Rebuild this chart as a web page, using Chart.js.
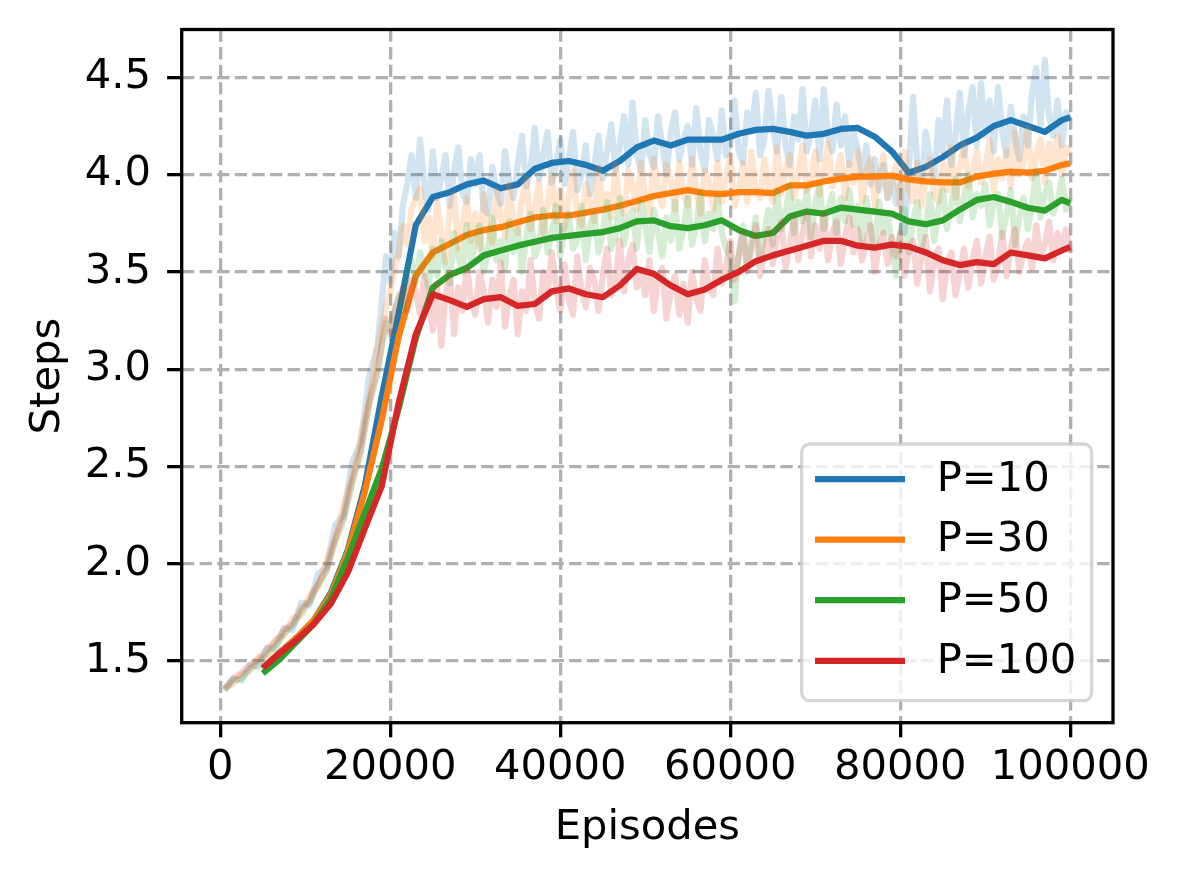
<!DOCTYPE html>
<html>
<head>
<meta charset="utf-8">
<script src="https://cdn.jsdelivr.net/npm/chart.js@4"></script>
<style>
  html, body { margin: 0; padding: 0; background: #fff; }
  #chartData { display: block; }
</style>
</head>
<body>
<canvas id="chartData" width="1179" height="878"></canvas>
<script>
const xTicks = [0, 20000, 40000, 60000, 80000, 100000];
const yTicks = [1.5, 2.0, 2.5, 3.0, 3.5, 4.0, 4.5];
const seriesLabels = ['P=10', 'P=30', 'P=50', 'P=100'];

// raw per-episode curves (faint): coarse on the ramp, finer on the plateau
const rawEpisodes = [
  500, 1500, 2500, 3500, 4500, 5500, 6500, 7500, 8500, 9500,
  10500, 11500, 12500, 13500, 14500, 15500, 16500, 17500, 18500, 19500,
  20000, 20500, 21000, 21500, 22000, 22500, 23000, 23500, 24000, 24500,
  25000, 25500, 26000, 26500, 27000, 27500, 28000, 28500, 29000, 29500,
  30000, 30500, 31000, 31500, 32000, 32500, 33000, 33500, 34000, 34500,
  35000, 35500, 36000, 36500, 37000, 37500, 38000, 38500, 39000, 39500,
  40000, 40500, 41000, 41500, 42000, 42500, 43000, 43500, 44000, 44500,
  45000, 45500, 46000, 46500, 47000, 47500, 48000, 48500, 49000, 49500,
  50000, 50500, 51000, 51500, 52000, 52500, 53000, 53500, 54000, 54500,
  55000, 55500, 56000, 56500, 57000, 57500, 58000, 58500, 59000, 59500,
  60000, 60500, 61000, 61500, 62000, 62500, 63000, 63500, 64000, 64500,
  65000, 65500, 66000, 66500, 67000, 67500, 68000, 68500, 69000, 69500,
  70000, 70500, 71000, 71500, 72000, 72500, 73000, 73500, 74000, 74500,
  75000, 75500, 76000, 76500, 77000, 77500, 78000, 78500, 79000, 79500,
  80000, 80500, 81000, 81500, 82000, 82500, 83000, 83500, 84000, 84500,
  85000, 85500, 86000, 86500, 87000, 87500, 88000, 88500, 89000, 89500,
  90000, 90500, 91000, 91500, 92000, 92500, 93000, 93500, 94000, 94500,
  95000, 95500, 96000, 96500, 97000, 97500, 98000, 98500, 99000, 99500,
  100000
];
const raw10 = [
  1.35, 1.41, 1.40, 1.48, 1.47, 1.57, 1.56, 1.67, 1.66, 1.80,
  1.79, 1.95, 1.98, 2.20, 2.25, 2.52, 2.62, 2.96, 3.12, 3.58,
  3.45, 3.70, 3.58, 3.85, 3.95, 4.10, 3.88, 4.18, 3.95, 3.82,
  4.12, 3.88, 3.98, 4.10, 3.84, 4.02, 4.14, 3.90, 3.86, 4.08,
  3.95, 4.10, 3.82, 3.80, 4.04, 3.92, 3.85, 4.12, 3.96, 3.88,
  4.06, 4.20, 3.94, 4.02, 4.24, 3.98, 4.10, 4.22, 3.96, 4.04,
  4.18, 3.95, 4.08, 4.22, 3.92, 4.00, 4.15, 3.90, 4.05, 4.20,
  3.98, 4.12, 4.26, 4.02, 4.15, 4.30, 4.05, 4.37, 4.10, 4.02,
  4.28, 4.10, 4.04, 4.30, 4.15, 4.00, 4.22, 4.32, 4.08, 4.18,
  4.25, 4.05, 4.34, 4.12, 4.02, 4.28, 4.20, 4.08, 4.33, 4.10,
  4.15, 4.38, 4.12, 4.06, 4.32, 4.22, 4.42, 4.10, 4.18, 4.43,
  4.25, 4.12, 4.40, 4.15, 4.05, 4.30, 4.18, 4.44, 4.12, 4.22,
  4.38, 4.08, 4.44, 4.20, 4.12, 4.36, 4.15, 4.30, 4.05, 4.22,
  4.12, 4.00, 4.15, 3.95, 4.08, 3.92, 4.05, 3.88, 3.98, 3.85,
  3.95, 3.70, 4.02, 4.40, 4.05, 3.96, 4.22, 4.08, 3.98, 4.28,
  4.12, 4.38, 4.05, 4.20, 4.42, 4.10, 4.32, 4.45, 4.15, 4.47,
  4.20, 4.38, 4.12, 4.45, 4.22, 4.10, 4.35, 4.18, 4.08, 4.30,
  4.15, 4.42, 4.55, 4.25, 4.59, 4.30, 4.20, 4.38, 4.15, 4.32,
  4.28
];
const raw30 = [
  1.36, 1.38, 1.43, 1.45, 1.52, 1.51, 1.61, 1.63, 1.72, 1.73,
  1.84, 1.88, 2.02, 2.12, 2.30, 2.44, 2.64, 2.84, 3.12, 3.32,
  3.40, 3.52, 3.60, 3.74, 3.64, 3.82, 3.88, 3.93, 3.66, 3.78,
  3.58, 3.86, 3.70, 3.55, 3.82, 3.90, 3.62, 3.74, 3.88, 3.66,
  3.80, 3.62, 3.90, 3.72, 3.65, 3.92, 3.78, 3.68, 3.95, 3.74,
  3.70, 3.88, 3.98, 3.72, 3.82, 3.96, 3.70, 3.85, 4.00, 3.76,
  3.92, 3.72, 3.88, 4.02, 3.78, 3.74, 3.95, 3.85, 3.76, 4.04,
  3.82, 3.90, 3.78, 4.05, 3.86, 3.80, 4.02, 3.94, 3.82, 4.06,
  3.88, 3.80, 4.08, 3.92, 3.84, 4.05, 3.98, 3.82, 4.06, 3.90,
  3.84, 4.08, 3.92, 3.80, 4.02, 3.96, 3.82, 4.06, 3.86, 3.98,
  4.10, 3.84, 3.92, 4.06, 3.86, 4.12, 3.92, 3.88, 4.08, 3.94,
  3.86, 4.14, 3.90, 4.02, 4.10, 3.88, 4.00, 4.15, 3.92, 3.96,
  4.12, 3.90, 4.02, 4.16, 3.94, 3.98, 4.10, 3.88, 4.06, 3.96,
  4.12, 3.86, 4.02, 4.08, 3.84, 3.98, 4.10, 3.88, 3.96, 4.05,
  3.82, 4.12, 3.92, 3.86, 4.06, 3.84, 3.98, 4.08, 3.90, 3.86,
  4.06, 3.92, 4.14, 3.88, 4.04, 4.16, 3.94, 4.00, 4.12, 3.96,
  4.04, 4.18, 3.92, 4.08, 3.98, 4.12, 3.94, 4.22, 4.00, 4.06,
  4.24, 3.98, 4.10, 4.18, 3.96, 4.16, 4.05, 4.20, 4.00, 4.14,
  4.10
];
const raw50 = [
  1.35, 1.40, 1.41, 1.46, 1.49, 1.54, 1.58, 1.64, 1.68, 1.75,
  1.80, 1.89, 1.96, 2.11, 2.22, 2.41, 2.56, 2.81, 2.98, 3.24,
  3.20, 3.30, 3.38, 3.30, 3.50, 3.56, 3.44, 3.60, 3.52, 3.42,
  3.62, 3.48, 3.66, 3.52, 3.44, 3.70, 3.58, 3.50, 3.74, 3.55,
  3.66, 3.74, 3.50, 3.62, 3.78, 3.56, 3.66, 3.52, 3.76, 3.60,
  3.72, 3.50, 3.68, 3.80, 3.58, 3.64, 3.82, 3.60, 3.70, 3.84,
  3.58, 3.72, 3.80, 3.62, 3.66, 3.84, 3.56, 3.74, 3.80, 3.60,
  3.70, 3.86, 3.62, 3.68, 3.88, 3.64, 3.78, 3.82, 3.62, 3.86,
  3.74, 3.60, 3.82, 3.70, 3.58, 3.78, 3.66, 3.86, 3.62, 3.72,
  3.88, 3.64, 3.74, 3.90, 3.66, 3.80, 3.72, 3.88, 3.70, 3.62,
  3.58, 3.35, 3.60, 3.74, 3.52, 3.66, 3.78, 3.56, 3.70, 3.82,
  3.64, 3.92, 3.72, 3.80, 3.94, 3.70, 3.86, 3.76, 3.92, 3.68,
  3.86, 3.94, 3.72, 3.82, 3.90, 3.70, 3.88, 3.76, 3.92, 3.74,
  3.84, 3.66, 3.88, 3.72, 3.62, 3.86, 3.70, 3.80, 3.64, 3.48,
  3.70, 3.82, 3.60, 3.76, 3.86, 3.62, 3.74, 3.90, 3.66, 3.82,
  3.92, 3.72, 3.84, 3.98, 3.76, 3.88, 4.00, 3.78, 3.90, 3.84,
  3.95, 3.74, 3.86, 3.90, 3.68, 3.80, 3.92, 3.64, 3.78, 3.88,
  3.72, 3.84, 4.02, 3.78, 3.90, 3.96, 3.80, 3.86, 3.98, 3.82,
  3.88
];
const raw100 = [
  1.36, 1.41, 1.44, 1.48, 1.51, 1.56, 1.60, 1.66, 1.69, 1.77,
  1.81, 1.90, 1.97, 2.13, 2.24, 2.43, 2.58, 2.83, 3.00, 3.26,
  3.18, 3.30, 3.36, 3.42, 3.30, 3.46, 3.40, 3.28, 3.48, 3.35,
  3.20, 3.44, 3.12, 3.38, 3.50, 3.18, 3.42, 3.30, 3.52, 3.36,
  3.28, 3.50, 3.40, 3.24, 3.46, 3.32, 3.55, 3.22, 3.38, 3.46,
  3.18, 3.40, 3.30, 3.56, 3.34, 3.26, 3.50, 3.38, 3.60, 3.42,
  3.30, 3.54, 3.36, 3.28, 3.58, 3.40, 3.32, 3.52, 3.46, 3.30,
  3.48, 3.62, 3.38, 3.44, 3.66, 3.40, 3.56, 3.64, 3.42, 3.50,
  3.38, 3.56, 3.30, 3.46, 3.52, 3.26, 3.40, 3.48, 3.28, 3.44,
  3.24, 3.50, 3.36, 3.30, 3.56, 3.42, 3.38, 3.62, 3.44, 3.52,
  3.66, 3.46, 3.58, 3.70, 3.50, 3.62, 3.74, 3.48, 3.60, 3.72,
  3.54, 3.68, 3.76, 3.52, 3.64, 3.78, 3.56, 3.70, 3.80, 3.58,
  3.74, 3.62, 3.80, 3.56, 3.70, 3.76, 3.54, 3.68, 3.78, 3.60,
  3.72, 3.56, 3.66, 3.74, 3.50, 3.64, 3.70, 3.54, 3.68, 3.58,
  3.70, 3.48, 3.62, 3.66, 3.44, 3.58, 3.68, 3.40, 3.56, 3.62,
  3.36, 3.54, 3.60, 3.38, 3.50, 3.62, 3.42, 3.56, 3.66, 3.44,
  3.58, 3.68, 3.46, 3.54, 3.70, 3.48, 3.62, 3.72, 3.50, 3.60,
  3.66, 3.52, 3.74, 3.58, 3.64, 3.76, 3.56, 3.70, 3.62, 3.72,
  3.60
];

// moving-average curves (solid)
const smoothEpisodes = [
  5000, 7000, 9000, 11000, 13000, 15000, 17000, 19000, 21000, 23000,
  25000, 27000, 29000, 31000, 33000, 35000, 37000, 39000, 41000, 43000,
  45000, 47000, 49000, 51000, 53000, 55000, 57000, 59000, 61000, 63000,
  65000, 67000, 69000, 71000, 73000, 75000, 77000, 79000, 81000, 83000,
  85000, 87000, 89000, 91000, 93000, 95000, 97000, 99000, 100000
];
const smooth10 = [
  1.46, 1.545, 1.62, 1.71, 1.85, 2.07, 2.40, 2.86, 3.29, 3.74,
  3.885, 3.91, 3.95, 3.97, 3.93, 3.95, 4.03, 4.06, 4.07, 4.05,
  4.02, 4.07, 4.14, 4.175, 4.15, 4.18, 4.18, 4.18, 4.21, 4.23,
  4.235, 4.22, 4.20, 4.21, 4.235, 4.24, 4.195, 4.12, 4.01, 4.04,
  4.09, 4.15, 4.19, 4.25, 4.28, 4.25, 4.22, 4.28, 4.295
];
const smooth30 = [
  1.46, 1.545, 1.62, 1.71, 1.84, 2.06, 2.37, 2.74, 3.17, 3.48,
  3.60, 3.645, 3.69, 3.715, 3.73, 3.755, 3.78, 3.79, 3.79, 3.805,
  3.82, 3.84, 3.865, 3.89, 3.905, 3.92, 3.905, 3.90, 3.91, 3.91,
  3.905, 3.945, 3.945, 3.965, 3.98, 3.99, 3.99, 3.995, 3.975, 3.965,
  3.96, 3.96, 3.99, 4.005, 4.015, 4.01, 4.02, 4.05, 4.058
];
const smooth50 = [
  1.436, 1.51, 1.60, 1.69, 1.82, 2.03, 2.26, 2.49, 2.80, 3.16,
  3.42, 3.485, 3.52, 3.585, 3.61, 3.635, 3.655, 3.675, 3.685, 3.695,
  3.705, 3.725, 3.76, 3.765, 3.735, 3.725, 3.74, 3.765, 3.715, 3.685,
  3.70, 3.785, 3.81, 3.80, 3.83, 3.82, 3.81, 3.80, 3.76, 3.745,
  3.765, 3.82, 3.87, 3.885, 3.86, 3.83, 3.815, 3.87, 3.852
];
const smooth100 = [
  1.465, 1.54, 1.61, 1.69, 1.795, 1.955, 2.18, 2.40, 2.83, 3.18,
  3.385, 3.355, 3.32, 3.36, 3.37, 3.325, 3.335, 3.40, 3.415, 3.385,
  3.37, 3.43, 3.515, 3.49, 3.43, 3.385, 3.41, 3.46, 3.50, 3.555,
  3.585, 3.61, 3.635, 3.66, 3.66, 3.635, 3.625, 3.64, 3.63, 3.60,
  3.56, 3.535, 3.55, 3.54, 3.60, 3.585, 3.57, 3.61, 3.629
];

const colors = ['31, 119, 180', '255, 127, 14', '44, 160, 44', '214, 39, 40'];
const rawSeries = [raw10, raw30, raw50, raw100];
const smoothSeries = [smooth10, smooth30, smooth50, smooth100];

const FONT = 41.7;
const LW = 6.25;

const toPoints = (xs, ys) => xs.map((x, i) => ({ x: x, y: ys[i] }));

// raw and smoothed for each P, later P drawn over earlier P (like matplotlib)
const datasets = [];
seriesLabels.forEach((label, i) => {
  datasets.push({
    label: label + ' raw',
    data: toPoints(rawEpisodes, rawSeries[i]),
    borderColor: `rgba(${colors[i]}, 0.2)`,
    borderWidth: LW,
    order: 7 - 2 * i,
    legend: false,
  });
  datasets.push({
    label: label,
    data: toPoints(smoothEpisodes, smoothSeries[i]),
    borderColor: `rgb(${colors[i]})`,
    borderWidth: LW,
    order: 6 - 2 * i,
    legend: true,
  });
});

const frame = {
  id: 'frame',
  afterDatasetsDraw(chart) {
    const { ctx, chartArea } = chart;
    ctx.save();
    ctx.strokeStyle = '#000';
    ctx.lineWidth = 3.3;
    ctx.strokeRect(chartArea.left, chartArea.top, chartArea.width, chartArea.height);
    ctx.restore();
  }
};

const legendBox = {
  id: 'legendBox',
  afterDraw(chart) {
    const { ctx, chartArea } = chart;
    const items = chart.data.datasets.filter(d => d.legend);
    const w = 290, h = 256.7, r = 8;
    const x = chartArea.right - 21.3 - w;
    const y = chartArea.bottom - 22 - h;
    ctx.save();
    ctx.beginPath();
    ctx.moveTo(x + r, y);
    ctx.lineTo(x + w - r, y);
    ctx.arcTo(x + w, y, x + w, y + r, r);
    ctx.lineTo(x + w, y + h - r);
    ctx.arcTo(x + w, y + h, x + w - r, y + h, r);
    ctx.lineTo(x + r, y + h);
    ctx.arcTo(x, y + h, x, y + h - r, r);
    ctx.lineTo(x, y + r);
    ctx.arcTo(x, y, x + r, y, r);
    ctx.closePath();
    ctx.fillStyle = 'rgba(255, 255, 255, 0.8)';
    ctx.fill();
    ctx.strokeStyle = 'rgba(204, 204, 204, 0.8)';
    ctx.lineWidth = 3.3;
    ctx.stroke();

    ctx.font = `${FONT}px "DejaVu Sans"`;
    ctx.textBaseline = 'middle';
    ctx.textAlign = 'left';
    items.forEach((d, i) => {
      const ly = y + 35 + i * 60.6;
      ctx.strokeStyle = d.borderColor;
      ctx.lineWidth = LW;
      ctx.beginPath();
      ctx.moveTo(x + 13.3, ly);
      ctx.lineTo(x + 103.3, ly);
      ctx.stroke();
      ctx.fillStyle = '#000';
      ctx.fillText(d.label, x + 135, ly + 1);
    });
    ctx.restore();
  }
};

Chart.defaults.font.family = '"DejaVu Sans"';
Chart.defaults.font.size = FONT;
Chart.defaults.color = '#000';

const gridStyle = {
  color: '#b0b0b0',
  lineWidth: 3.3,
  drawTicks: true,
  tickColor: '#000',
  tickWidth: 3.3,
  tickLength: 14.6,
  tickBorderDash: [],
};
// in v4 the grid line dash lives on the border options
const borderStyle = { display: false, dash: [12.3, 5.3] };

const ctx = document.getElementById('chartData').getContext('2d');
new Chart(ctx, {
  type: 'line',
  data: { datasets: datasets },
  options: {
    responsive: false,
    devicePixelRatio: 1,
    animation: false,
    events: [],
    layout: { padding: { top: 29.5, right: 66, left: 0, bottom: 0 } },
    elements: {
      point: { radius: 0 },
      line: { tension: 0, borderJoinStyle: 'round', borderCapStyle: 'butt', fill: false },
    },
    plugins: {
      legend: { display: false },
      tooltip: { enabled: false },
    },
    scales: {
      x: {
        type: 'linear',
        min: -4540,
        max: 105024,
        afterBuildTicks: axis => { axis.ticks = xTicks.map(v => ({ value: v })); },
        afterFit: axis => {
          axis.height = 155.3;
          axis.paddingLeft = 0;
          axis.paddingRight = 0;
        },
        ticks: { autoSkip: false, maxRotation: 0, padding: 6, callback: v => String(v) },
        grid: gridStyle,
        border: borderStyle,
        title: { display: true, text: 'Episodes', padding: { top: 0, bottom: 25 } },
      },
      y: {
        type: 'linear',
        min: 1.183,
        max: 4.746,
        afterBuildTicks: axis => { axis.ticks = yTicks.map(v => ({ value: v })); },
        afterFit: axis => {
          axis.width = 181.7;
          axis.paddingTop = 0;
          axis.paddingBottom = 0;
        },
        ticks: { padding: 16, callback: v => v.toFixed(1) },
        grid: gridStyle,
        border: borderStyle,
        title: { display: true, text: 'Steps', padding: { top: 23, bottom: 0 } },
      },
    },
  },
  plugins: [frame, legendBox],
});
</script>
</body>
</html>
